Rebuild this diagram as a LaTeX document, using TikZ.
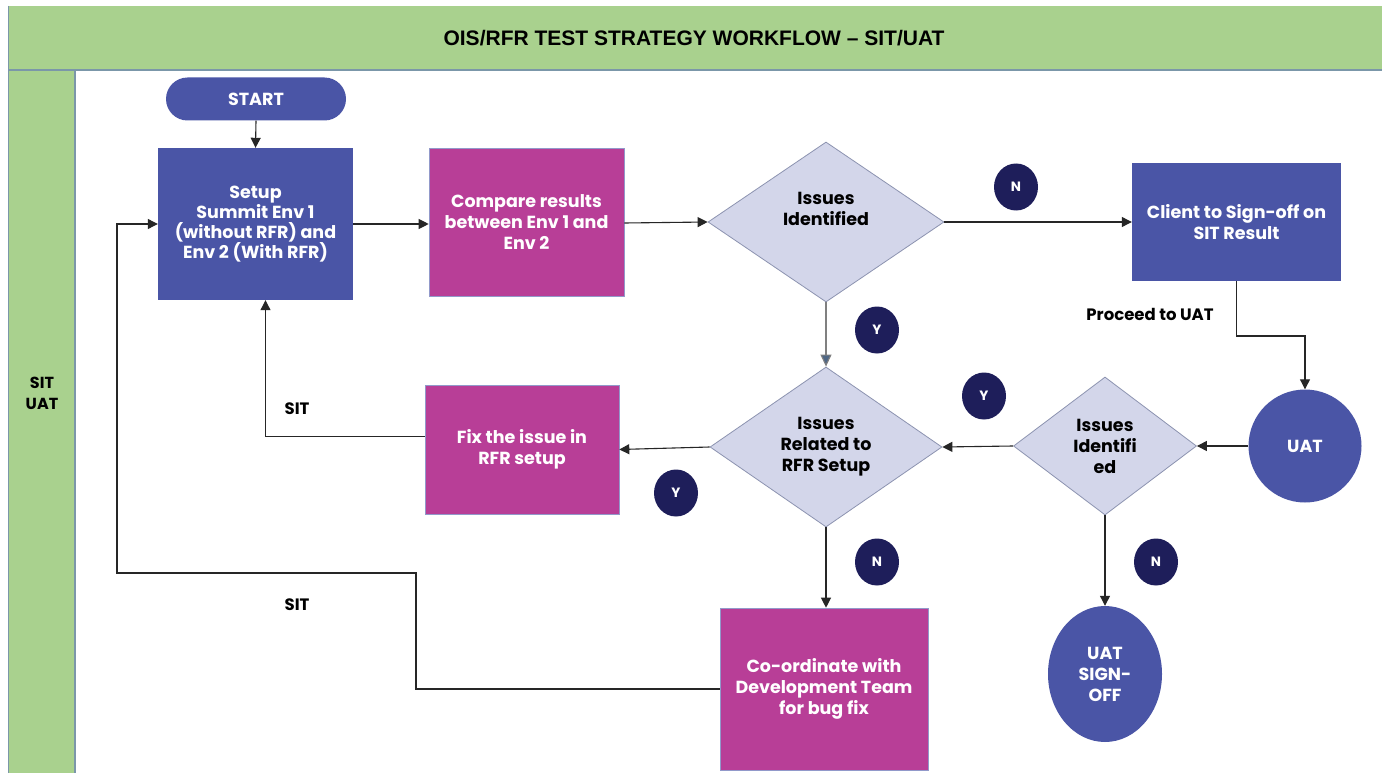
\documentclass[tikz,border=0pt]{standalone}
\usepackage{fontspec}
\setmainfont{Poppins}
\newfontfamily\titlefont{Liberation Sans}
\usetikzlibrary{shapes.geometric,arrows.meta}
\definecolor{lanegreen}{HTML}{A9D18E}
\definecolor{laneline}{HTML}{7B97A9}
\definecolor{boxblue}{HTML}{4A55A6}
\definecolor{boxmag}{HTML}{B83E97}
\definecolor{diafill}{HTML}{D3D6EA}
\definecolor{dialine}{HTML}{8C93B0}
\definecolor{badge}{HTML}{1E1E5A}
\definecolor{tipblue}{HTML}{4F6785}
\tikzset{
  txt/.style={font=\fontsize{17.5}{21}\selectfont\bfseries, align=center},
  bluebox/.style={txt, fill=boxblue, text=white, draw=none, inner sep=0pt},
  magbox/.style={txt, fill=boxmag, text=white, draw=boxblue!60, line width=0.6pt, inner sep=0pt},
  decision/.style={txt, diamond, fill=diafill, draw=dialine, line width=0.8pt, inner sep=0pt, text=black},
  badgenode/.style={ellipse, fill=badge, text=white, minimum width=44pt, minimum height=47pt, inner sep=0pt, font=\fontsize{13.5}{15}\selectfont\bfseries},
  flow/.style={draw=black!85, line width=1.1pt, -{Triangle[length=10pt,width=10pt]}},
  plainlabel/.style={font=\fontsize{16.5}{20}\selectfont\bfseries, text=black}
}
\begin{document}
\begin{tikzpicture}[x=1pt,y=-1pt]
\useasboundingbox (0,0) rectangle (1387,773);
\fill[white] (0,0) rectangle (1387,773);
% header and lane
\fill[lanegreen] (8,6) rectangle (1382,70);
\fill[lanegreen] (8,70) rectangle (74,773);
\draw[laneline, line width=2pt] (8,70) -- (1382,70);
\draw[laneline, line width=2pt] (75,71) -- (75,773);
\draw[laneline, line width=0.8pt] (8,6) -- (8,773);
\node[font=\titlefont\fontsize{21}{23}\selectfont\bfseries] (title) at (694,38) {OIS/RFR TEST STRATEGY WORKFLOW – SIT/UAT};
\node[plainlabel, align=center, font=\fontsize{16}{21}\selectfont\bfseries] (lane) at (42,393) {SIT\\UAT};

% nodes
\node[bluebox, rounded corners=21.5pt, minimum width=180pt, minimum height=43pt] (start) at (256,99) {START};
\node[bluebox, minimum width=195pt, minimum height=152pt] (setup) at (255.5,224) {};
\node[txt, text=white, font=\fontsize{17.5}{20}\selectfont\bfseries] (setuptext) at (255.5,224) {Setup\\Summit Env 1\\(without RFR) and\\Env 2 (With RFR)};
\node[magbox, minimum width=195pt, minimum height=148pt] (compare) at (526.5,222) {Compare results\\between Env 1 and\\Env 2};
\node[decision, minimum width=236pt, minimum height=160pt] (d1) at (826,222) {Issues\\Identified\\[6pt]};
\node[bluebox, minimum width=209pt, minimum height=118pt] (client) at (1236.5,222) {Client to Sign-off on\\SIT Result};
\node[circle, fill=boxblue, text=white, minimum size=113pt, inner sep=0pt, txt] (uat) at (1305,446) {UAT};
\node[decision, minimum width=183pt, minimum height=138pt] (d3) at (1105,446) {Issues\\Identifi\\ed};
\node[decision, minimum width=232pt, minimum height=160pt] (d2) at (826,447) {Issues\\Related to\\RFR Setup};
\node[magbox, minimum width=194pt, minimum height=129pt] (fix) at (522,449.5) {Fix the issue in\\RFR setup};
\node[magbox, minimum width=208pt, minimum height=162pt] (coord) at (824,689) {Co-ordinate with\\Development Team\\for bug fix};
\node[ellipse, fill=boxblue, text=white, minimum width=114pt, minimum height=136pt, inner sep=0pt, txt] (signoff) at (1105,674) {UAT\\SIGN-\\OFF};

% badges
\node[badgenode] (bn1) at (1016,187) {N};
\node[badgenode] (by1) at (877,330) {Y};
\node[badgenode] (by2) at (984,396) {Y};
\node[badgenode] (by3) at (676,493) {Y};
\node[badgenode] (bn2) at (877,562) {N};
\node[badgenode] (bn3) at (1156,562) {N};

% labels
\node[plainlabel] (proceed) at (1150,314) {Proceed to UAT};
\node[plainlabel] (sit1) at (297,409) {SIT};
\node[plainlabel] (sit2) at (297,605) {SIT};

% connectors
\coordinate (p1) at (1305,336);
\coordinate (b1) at (416,573);
\coordinate (b2) at (117,573);
\draw[flow] (start.south) -- (setup.north);
\draw[flow] (setup.east) -- (compare.west |- setup.east);
\draw[flow] (compare.east |- 0,223) -- (d1.west);
\draw[flow] (d1.east) -- (client.west);
\draw[draw=gray, line width=1.1pt, -{Triangle[length=12pt,width=11pt,fill=tipblue]}] (d1.south) -- (d2.north);
\draw[flow] (client.south) |- (p1) -- (uat.north);
\draw[flow] (uat.west) -- (d3.east);
\draw[flow] (d3.west) -- (d2.east);
\draw[flow] (d2.west) -- (fix.east);
\draw[flow] ([yshift=13pt]fix.west) -| ([xshift=10pt]setup.south);
\draw[flow] (d2.south) -- (d2.south |- coord.north);
\draw[flow] (d3.south) -- (signoff.north);
\draw[flow] (coord.west) -| (b1) -- (b2) |- (setup.west);
\end{tikzpicture}
\end{document}
